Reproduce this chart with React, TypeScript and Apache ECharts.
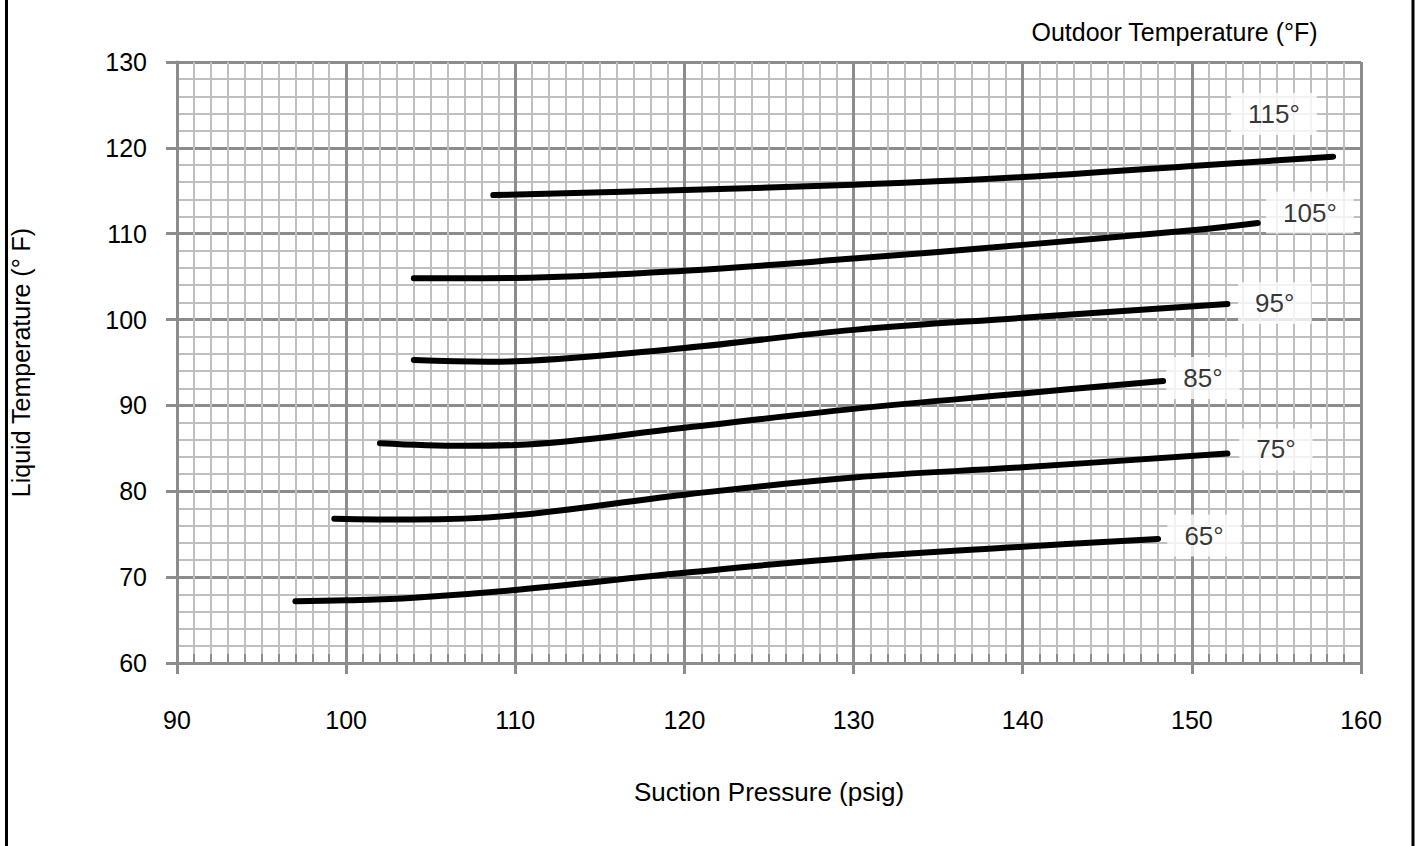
import React, { useEffect, useRef } from "react";
import * as echarts from "echarts";

const FONT = "'Liberation Sans', Arial, sans-serif";

const xTicks = [90, 100, 110, 120, 130, 140, 150, 160];
const yTicks = [60, 70, 80, 90, 100, 110, 120, 130];

const seriesNames = ["65°", "75°", "85°", "95°", "105°", "115°"];

const x65 = [97, 100, 104, 110, 120, 130, 140, 148];
const y65 = [67.2, 67.3, 67.6, 68.5, 70.5, 72.3, 73.55, 74.45];

const x75 = [99.3, 104, 110, 120, 130, 140, 152.1];
const y75 = [76.8, 76.7, 77.2, 79.6, 81.6, 82.8, 84.4];

const x85 = [102, 107, 110, 120, 130, 140, 148.3];
const y85 = [85.6, 85.3, 85.4, 87.4, 89.6, 91.4, 92.85];

const x95 = [104, 108.4, 110, 120, 130, 140, 152.1];
const y95 = [95.3, 95.1, 95.15, 96.7, 98.8, 100.2, 101.8];

const x105 = [104, 110, 120, 130, 140, 150, 153.9];
const y105 = [104.8, 104.85, 105.7, 107.1, 108.7, 110.4, 111.25];

const x115 = [108.7, 120, 130, 140, 150, 158.35];
const y115 = [114.5, 115.1, 115.7, 116.6, 117.9, 118.97];

const labelX = [150.72, 154.97, 150.66, 154.9, 156.98, 154.85];
const labelY = [74.85, 84.87, 93.2, 101.93, 112.47, 123.94];

const allX = [x65, x75, x85, x95, x105, x115];
const allY = [y65, y75, y85, y95, y105, y115];

export default function App() {
  const ref = useRef<HTMLDivElement>(null);
  useEffect(() => {
    if (!ref.current) return;
    const chart = echarts.init(ref.current, undefined, { renderer: "svg" });
    const lineSeries = allX.map((xs, i) => ({
      type: "line",
      name: seriesNames[i],
      data: xs.map((x, j) => [x, allY[i][j]]),
      smooth: 0.4,
      symbol: "none",
      lineStyle: { color: "#000", width: 6, cap: "round", join: "round" },
      z: 3,
      xAxisIndex: 0,
      yAxisIndex: 0,
    }));
    const option: any = {
      animation: false,
      backgroundColor: "#fff",
      title: {
        text: "Outdoor Temperature (°F)",
        right: 103,
        top: 19,
        padding: 0,
        textStyle: { fontFamily: FONT, fontSize: 25, fontWeight: "normal", color: "#000" },
      },
      grid: { left: 176, right: 60, top: 62, bottom: 183, containLabel: false },
      xAxis: [
        {
          type: "value",
          min: xTicks[0],
          max: xTicks[xTicks.length - 1],
          interval: 10,
          name: "Suction Pressure (psig)",
          nameLocation: "middle",
          nameGap: 116,
          nameTextStyle: { fontFamily: FONT, fontSize: 26, color: "#000" },
          axisLine: { show: true, lineStyle: { color: "#8c8c8c", width: 3 } },
          axisTick: { show: true, length: 11, lineStyle: { color: "#8c8c8c", width: 3 } },
          axisLabel: { margin: 44, fontFamily: FONT, fontSize: 25, color: "#000" },
          splitLine: { show: true, lineStyle: { color: "#8c8c8c", width: 3 } },
          minorTick: { show: false, splitNumber: 10 },
          minorSplitLine: { show: true, lineStyle: { color: "#bfbfbf", width: 2 } },
          z: 1,
        },
        {
          type: "value",
          min: xTicks[0],
          max: xTicks[xTicks.length - 1],
          interval: 1,
          position: "bottom",
          offset: 0,
          axisLine: { show: false },
          axisTick: { show: true, inside: true, length: 9, lineStyle: { color: "#8c8c8c", width: 2 } },
          axisLabel: { show: false },
          splitLine: { show: false },
          z: 2,
        },
      ],
      yAxis: {
        type: "value",
        min: yTicks[0],
        max: yTicks[yTicks.length - 1],
        interval: 10,
        name: "Liquid Temperature (° F)",
        nameLocation: "middle",
        nameGap: 144,
        nameTextStyle: { fontFamily: FONT, fontSize: 25, color: "#000" },
        axisLine: { show: true, lineStyle: { color: "#8c8c8c", width: 3 } },
        axisTick: { show: true, length: 11, lineStyle: { color: "#8c8c8c", width: 3 } },
        axisLabel: { margin: 30, fontFamily: FONT, fontSize: 25, color: "#000" },
        splitLine: { show: true, lineStyle: { color: "#8c8c8c", width: 3 } },
        minorTick: { show: false, splitNumber: 5 },
        minorSplitLine: { show: true, lineStyle: { color: "#bfbfbf", width: 2 } },
        z: 1,
      },
      graphic: [
        {
          type: "rect",
          shape: { x: 6.5, y: -10, width: 1406.5, height: 870 },
          style: { fill: "none", stroke: "#000", lineWidth: 3 },
          z: 10,
        },
      ],
      series: [
        ...lineSeries,
        {
          type: "scatter",
          name: "labels",
          data: labelX.map((x, i) => ({ value: [x, labelY[i]], name: seriesNames[i] })),
          symbolSize: 0,
          xAxisIndex: 0,
          yAxisIndex: 0,
          z: 5,
          label: {
            show: true,
            position: "inside",
            formatter: (p: any) => p.name,
            fontFamily: FONT,
            fontSize: 26,
            color: "#000",
            backgroundColor: "#fff",
            padding: [9, 17, 7, 17],
          },
        },
      ],
    };
    chart.setOption(option);
    return () => chart.dispose();
  }, []);
  return (
    <div
      ref={ref}
      style={{ position: "absolute", left: 0, top: 0, width: 1421, height: 846 }}
    />
  );
}
